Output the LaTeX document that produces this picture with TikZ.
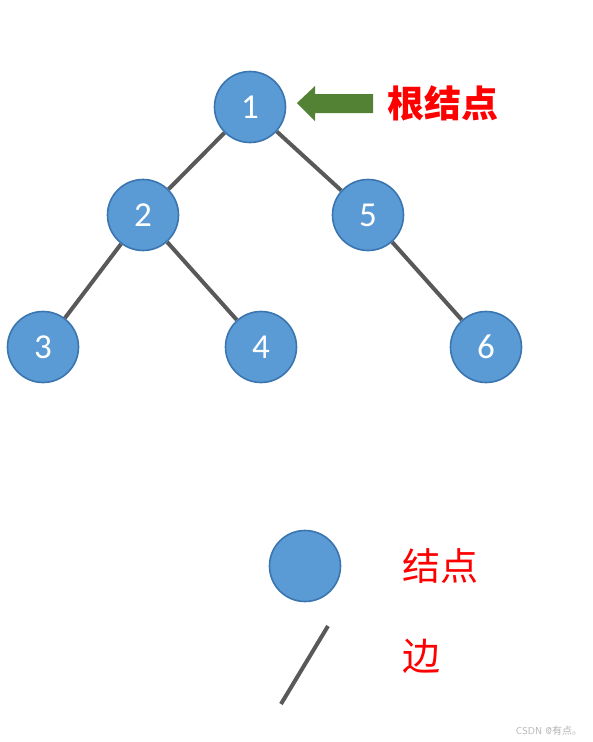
\documentclass[tikz,border=0pt]{standalone}
\usepackage{fontspec}
\newfontfamily\cjkfont{Noto Sans CJK SC}
\newfontfamily\carlito{Carlito}
\usetikzlibrary{backgrounds}
\definecolor{nodefill}{HTML}{5B9BD5}
\definecolor{nodeline}{HTML}{3A75B0}
\definecolor{edgecol}{HTML}{595959}
\definecolor{arrowgreen}{HTML}{548235}
\tikzset{
  tnode/.style={circle, fill=nodefill, draw=nodeline, line width=1.6pt, minimum size=71pt, inner sep=0pt, text=white, font=\carlito\fontsize{35}{35}\selectfont},
  edge/.style={draw=edgecol, line width=4pt},
  lbl/.style={text=red, inner sep=0pt}
}
\begin{document}
\begin{tikzpicture}[x=1pt,y=-1pt]
\useasboundingbox (0,0) rectangle (592,742);
\node[tnode] (n1) at (250,107) {1};
\node[tnode] (n2) at (143,215) {2};
\node[tnode] (n5) at (368,215) {5};
\node[tnode] (n3) at (43,347) {3};
\node[tnode] (n4) at (261,347) {4};
\node[tnode] (n6) at (486,347) {6};
\begin{scope}[on background layer]
\path[edge] (n1) -- (n2);
\path[edge] (n1) -- (n5);
\path[edge] (n2) -- (n3);
\path[edge] (n2) -- (n4);
\path[edge] (n5) -- (n6);
\end{scope}
% arrow
\coordinate (atip) at (297,103);
\fill[arrowgreen] (atip) -- (315,86) -- (315,94) -- (373,94) -- (373,113) -- (315,113) -- (315,121) -- cycle;
\node[lbl, font=\cjkfont\bfseries\fontsize{37}{37}\selectfont] (root) at (443,103) {根结点};
% legend
\node[tnode] (leg) at (305,566) {};
\coordinate (la) at (328,626);
\coordinate (lb) at (281,704);
\path[edge] (la) -- (lb);
\node[lbl, font=\cjkfont\fontsize{38}{38}\selectfont] (lnode) at (440,566) {结点};
\node[lbl, font=\cjkfont\fontsize{38}{38}\selectfont, anchor=west] (ledge) at (402,656) {边};
\node[text=gray!60, font=\fontsize{10}{10}\selectfont\sffamily, inner sep=0pt] (wm) at (549,731) {CSDN @{\cjkfont 有点。}};
\end{tikzpicture}
\end{document}
